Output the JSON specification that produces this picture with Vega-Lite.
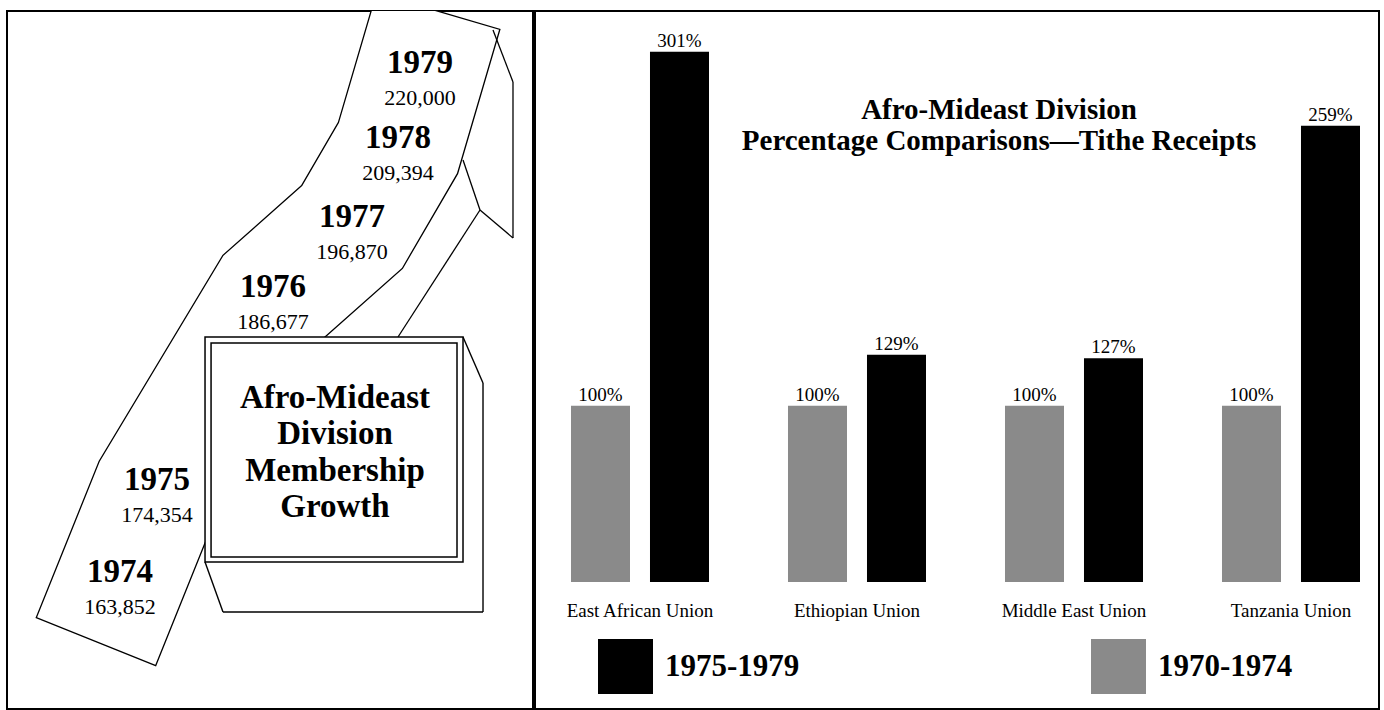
{
  "$schema": "https://vega.github.io/schema/vega-lite/v6.json",
  "background": "white",
  "padding": {"left": 6, "top": 10, "right": 6, "bottom": 0},
  "spacing": 0,
  "config": {"view": {"stroke": "black", "strokeWidth": 2}, "concat": {"spacing": 0}},
  "datasets": {
    "membership": [
      {"year": 1974, "members": 163852},
      {"year": 1975, "members": 174354},
      {"year": 1976, "members": 186677},
      {"year": 1977, "members": 196870},
      {"year": 1978, "members": 209394},
      {"year": 1979, "members": 220000}
    ],
    "tithe": [
      {"union": "East African Union", "period": "1970-1974", "ratio": 1.00},
      {"union": "East African Union", "period": "1975-1979", "ratio": 3.01},
      {"union": "Ethiopian Union", "period": "1970-1974", "ratio": 1.00},
      {"union": "Ethiopian Union", "period": "1975-1979", "ratio": 1.29},
      {"union": "Middle East Union", "period": "1970-1974", "ratio": 1.00},
      {"union": "Middle East Union", "period": "1975-1979", "ratio": 1.27},
      {"union": "Tanzania Union", "period": "1970-1974", "ratio": 1.00},
      {"union": "Tanzania Union", "period": "1975-1979", "ratio": 2.59}
    ]
  },
  "hconcat": [
    {
      "width": 526,
      "height": 698,
      "title": {
        "text": ["Afro-Mideast", "Division", "Membership", "Growth"],
        "anchor": "middle", "frame": "group", "offset": 0, "baseline": "alphabetic",
        "dx": 65, "dy": 539, "font": "Liberation Serif", "fontSize": 33, "fontWeight": "bold",
        "lineHeight": 36.5, "color": "black", "zindex": 1
      },
      "data": {"name": "membership"},
      "encoding": {
        "x": {"field": "year", "type": "quantitative", "axis": null,
          "scale": {"domain": [1974, 1975, 1976, 1977, 1978, 1979], "range": [113, 150, 266, 345, 391, 413], "zero": false, "nice": false}},
        "y": {"field": "members", "type": "quantitative", "axis": null,
          "scale": {"domain": [163852, 174354, 186677, 196870, 209394, 220000], "range": [571, 479, 286, 216, 137, 62], "zero": false, "nice": false}}
      },
      "layer": [
        {"mark": {"type": "line", "stroke": "black", "strokeWidth": 130, "strokeCap": "square", "strokeJoin": "miter", "clip": true},
         "encoding": {"order": {"field": "year", "type": "quantitative"}}},
        {"mark": {"type": "line", "stroke": "white", "strokeWidth": 127.4, "strokeCap": "square", "strokeJoin": "miter", "clip": true},
         "encoding": {"order": {"field": "year", "type": "quantitative"}}},
        {"transform": [{"filter": "datum.year === 1979"}],
         "mark": {"type": "rule", "color": "black", "strokeWidth": 1.3},
         "encoding": {"x": {"datum": 1982.318, "type": "quantitative"}, "x2": {"datum": 1983.227},
                      "y": {"datum": 226081, "type": "quantitative"}, "y2": {"datum": 218727}}},
        {"transform": [{"filter": "datum.year === 1979"}],
         "mark": {"type": "rule", "color": "black", "strokeWidth": 1.3},
         "encoding": {"x": {"datum": 1983.227, "type": "quantitative"},
                      "y": {"datum": 218727, "type": "quantitative"}, "y2": {"datum": 195268}}},
        {"transform": [{"filter": "datum.year === 1979"}],
         "mark": {"type": "rule", "color": "black", "strokeWidth": 1.3},
         "encoding": {"x": {"datum": 1983.227, "type": "quantitative"}, "x2": {"datum": 1981.727},
                      "y": {"datum": 195268, "type": "quantitative"}, "y2": {"datum": 199567}}},
        {"transform": [{"filter": "datum.year === 1979"}],
         "mark": {"type": "rule", "color": "black", "strokeWidth": 1.3},
         "encoding": {"x": {"datum": 1981.727, "type": "quantitative"}, "x2": {"datum": 1978.0},
                      "y": {"datum": 199567, "type": "quantitative"}, "y2": {"datum": 184123}}},
        {"transform": [{"filter": "datum.year === 1979"}],
         "mark": {"type": "rule", "color": "black", "strokeWidth": 1.3},
         "encoding": {"x": {"datum": 1980.955, "type": "quantitative"}, "x2": {"datum": 1981.727},
                      "y": {"datum": 207492, "type": "quantitative"}, "y2": {"datum": 199567}}},
        {"transform": [{"filter": "datum.year === 1979"}],
         "mark": {"type": "rect", "fill": "white", "strokeWidth": 0},
         "encoding": {"x": {"datum": 1975.569, "type": "quantitative"}, "x2": {"datum": 1981.864},
                      "y": {"datum": 181186, "type": "quantitative"}, "y2": {"datum": 160427}}},
        {"transform": [{"filter": "datum.year === 1979"}],
         "mark": {"type": "rule", "color": "black", "strokeWidth": 1.4},
         "encoding": {"x": {"datum": 1981.864, "type": "quantitative"},
                      "y": {"datum": 181186, "type": "quantitative"}, "y2": {"datum": 160427}}},
        {"transform": [{"filter": "datum.year === 1979"}],
         "mark": {"type": "rule", "color": "black", "strokeWidth": 1.4},
         "encoding": {"x": {"datum": 1975.569, "type": "quantitative"}, "x2": {"datum": 1981.864},
                      "y": {"datum": 160427, "type": "quantitative"}}},
        {"transform": [{"filter": "datum.year === 1979"}],
         "mark": {"type": "rule", "color": "black", "strokeWidth": 1.4},
         "encoding": {"x": {"datum": 1980.955, "type": "quantitative"}, "x2": {"datum": 1981.864},
                      "y": {"datum": 184123, "type": "quantitative"}, "y2": {"datum": 181186}}},
        {"transform": [{"filter": "datum.year === 1979"}],
         "mark": {"type": "rule", "color": "black", "strokeWidth": 1.4},
         "encoding": {"x": {"datum": 1975.414, "type": "quantitative"}, "x2": {"datum": 1975.569},
                      "y": {"datum": 166135, "type": "quantitative"}, "y2": {"datum": 160427}}},
        {"transform": [{"filter": "datum.year === 1979"}],
         "mark": {"type": "rect", "fill": "white", "stroke": "black", "strokeWidth": 1.5},
         "encoding": {"x": {"datum": 1975.414, "type": "quantitative"}, "x2": {"datum": 1980.955},
                      "y": {"datum": 184123, "type": "quantitative"}, "y2": {"datum": 166135}}},
        {"transform": [{"filter": "datum.year === 1979"}],
         "mark": {"type": "rect", "fillOpacity": 0, "stroke": "black", "strokeWidth": 1.5},
         "encoding": {"x": {"datum": 1975.466, "type": "quantitative"}, "x2": {"datum": 1980.682},
                      "y": {"datum": 183740, "type": "quantitative"}, "y2": {"datum": 166706}}},
        {"mark": {"type": "text", "font": "Liberation Serif", "fontSize": 33, "fontWeight": "bold", "align": "center", "baseline": "alphabetic", "color": "black"},
         "encoding": {"text": {"field": "year", "type": "nominal"}}},
        {"mark": {"type": "text", "font": "Liberation Serif", "fontSize": 22, "align": "center", "baseline": "alphabetic", "dy": 32, "color": "black"},
         "encoding": {"text": {"field": "members", "type": "quantitative", "format": ","}}}
      ]
    },
    {
      "width": 844,
      "height": 698,
      "title": {
        "text": ["Afro-Mideast Division", "Percentage Comparisons—Tithe Receipts"],
        "anchor": "middle", "frame": "group", "offset": 0, "baseline": "alphabetic",
        "dx": 42, "dy": 168, "font": "Liberation Serif", "fontSize": 29, "fontWeight": "bold",
        "lineHeight": 31, "color": "black", "zindex": 1
      },
      "data": {"name": "tithe"},
      "encoding": {
        "x": {"field": "union", "type": "nominal", "axis": null,
          "scale": {"domain": ["East African Union", "Ethiopian Union", "Middle East Union", "Tanzania Union"], "paddingInner": 0.364, "paddingOuter": 0.1267, "align": 0.6545}},
        "y": {"field": "ratio", "type": "quantitative", "axis": null,
          "scale": {"domain": [-0.7209, 3.2412], "zero": false, "nice": false}}
      },
      "layer": [
        {"mark": {"type": "bar"},
         "encoding": {
           "xOffset": {"field": "period", "type": "nominal", "scale": {"domain": ["1970-1974", "1975-1979"], "paddingInner": 0.253, "paddingOuter": 0}},
           "color": {"field": "period", "type": "nominal",
             "scale": {"domain": ["1975-1979", "1970-1974"], "range": ["#000000", "#8a8a8a"]},
             "legend": {"orient": "none", "legendX": 591, "legendY": 628, "direction": "horizontal", "title": null,
               "symbolType": "square", "symbolSize": 3025, "symbolStrokeWidth": 0, "symbolOpacity": 1,
               "labelFont": "Liberation Serif", "labelFontSize": 31, "labelFontWeight": "bold", "labelColor": "black",
               "labelOffset": 12, "columnPadding": 291, "labelLimit": 400, "padding": 0}}
         }},
        {"mark": {"type": "text", "font": "Liberation Serif", "fontSize": 19, "align": "center", "baseline": "alphabetic", "dy": -5, "color": "black"},
         "encoding": {
           "xOffset": {"field": "period", "type": "nominal", "scale": {"domain": ["1970-1974", "1975-1979"], "paddingInner": 0.253, "paddingOuter": 0}},
           "text": {"field": "ratio", "type": "quantitative", "format": ".0%"}
         }},
        {"transform": [{"filter": "datum.period === '1970-1974'"}],
         "mark": {"type": "text", "font": "Liberation Serif", "fontSize": 19, "align": "center", "baseline": "alphabetic", "dy": 35, "color": "black"},
         "encoding": {
           "y": {"datum": 0, "type": "quantitative"},
           "text": {"field": "union", "type": "nominal"}
         }}
      ]
    }
  ]
}
